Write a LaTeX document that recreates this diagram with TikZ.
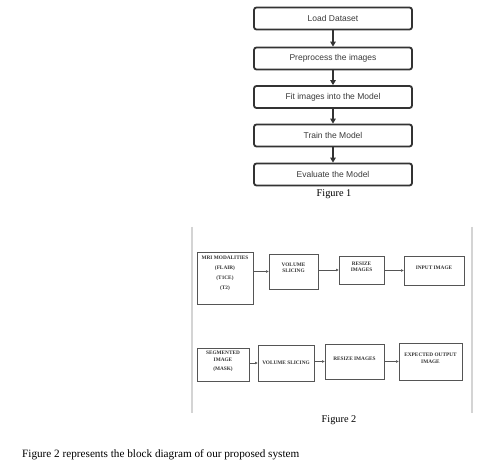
\documentclass[tikz,border=0pt]{standalone}
\usepackage{fontspec}
\setmainfont{Liberation Serif}
\newfontfamily\arialf{Liberation Sans}
\usetikzlibrary{arrows.meta,calc}
\definecolor{boxline}{HTML}{333333}
\definecolor{boxtext}{HTML}{3A3A3A}
\definecolor{thinline}{HTML}{555555}
\definecolor{rule}{HTML}{D4D4D4}
\tikzset{
  flowbox/.style={draw=boxline, line width=1.8pt, rounded corners=2.5pt, minimum width=158pt, minimum height=22pt, inner sep=0pt, font=\arialf\fontsize{8.5}{9}\selectfont, text=boxtext},
  flowarrow/.style={draw=boxline, line width=1.3pt, -{Triangle[length=5pt,width=5.5pt]}},
  blockbox/.style={draw=thinline, line width=0.8pt, inner sep=0pt, align=center, font=\bfseries\fontsize{5.3}{6.5}\selectfont, text=black!80},
  blockarrow/.style={draw=thinline, line width=0.5pt, -{Triangle[length=2.5pt,width=2.5pt]}},
  caption/.style={font=\fontsize{10.3}{12}\selectfont, inner sep=0pt},
  sideline/.style={draw=rule, line width=2pt}
}
\begin{document}
\begin{tikzpicture}[x=1pt,y=-1pt]
\useasboundingbox (0,0) rectangle (490,470);
% Figure 1
\node[flowbox] (f1) at (333,18.5) {Load Dataset};
\node[flowbox] (f2) at (333,58.5) {Preprocess the images};
\node[flowbox] (f3) at (333,97) {Fit images into the Model};
\node[flowbox] (f4) at (333,135.5) {Train the Model};
\node[flowbox] (f5) at (333,174.5) {Evaluate the Model};
\draw[flowarrow] (f1) -- (f2);
\draw[flowarrow] (f2) -- (f3);
\draw[flowarrow] (f3) -- (f4);
\draw[flowarrow] (f4) -- (f5);
\node[caption] (cap1) at (334,194) {Figure 1};
% Figure 2 side rules
\coordinate (la) at (192,227);
\coordinate (lb) at (192,413);
\coordinate (ra) at (472,227);
\coordinate (rb) at (472,413);
\draw[sideline] (la) -- (lb);
\draw[sideline] (ra) -- (rb);
% Row 1
\node[blockbox, minimum width=56pt, minimum height=52pt, font=\bfseries\fontsize{5.3}{10.2}\selectfont] (mri) at (225,278) {MRI MODALITIES\\(FLAIR)\\(T1CE)\\(T2)\\\rule{0pt}{5pt}};
\node[blockbox, minimum width=49pt, minimum height=35pt] (vs1) at (293.5,271.5) {VOLUME\\SLICING\\[1pt]\rule{0pt}{2pt}};
\node[blockbox, minimum width=45pt, minimum height=28pt] (rs1) at (361.5,270) {RESIZE\\IMAGES\\[0pt]\rule{0pt}{2pt}};
\node[blockbox, minimum width=60pt, minimum height=29pt] (in1) at (434,270.5) {INPUT IMAGE\\[0pt]\rule{0pt}{1pt}};
\draw[blockarrow] (mri.east |- vs1.west) -- (vs1.west);
\draw[blockarrow] (vs1.east |- rs1.west) -- (rs1.west);
\draw[blockarrow] (rs1.east |- in1.west) -- (in1.west);
% Row 2
\node[blockbox, minimum width=52pt, minimum height=33pt, font=\bfseries\fontsize{5.3}{7}\selectfont] (seg) at (223,364.5) {SEGMENTED\\IMAGE\\[2pt](MASK)\\\rule{0pt}{3pt}};
\node[blockbox, minimum width=56pt, minimum height=36pt] (vs2) at (286,363) {VOLUME SLICING};
\node[blockbox, minimum width=59pt, minimum height=35pt] (rs2) at (354.5,361.5) {RESIZE IMAGES\\[0pt]\rule{0pt}{1pt}};
\node[blockbox, minimum width=63pt, minimum height=37pt] (ex2) at (430.5,361.5) {EXPECTED OUTPUT\\IMAGE\\[0pt]\rule{0pt}{1pt}};
\draw[blockarrow] (seg.east |- vs2.west) -- (vs2.west);
\draw[blockarrow] (vs2.east |- rs2.west) -- (rs2.west);
\draw[blockarrow] (rs2.east |- ex2.west) -- (ex2.west);
\node[caption] (cap2) at (339,420) {Figure 2};
% Bottom sentence
\node[caption, anchor=west, font=\fontsize{11.2}{13}\selectfont] (sent) at (22,455) {Figure 2 represents the block diagram of our proposed system};
\end{tikzpicture}
\end{document}
